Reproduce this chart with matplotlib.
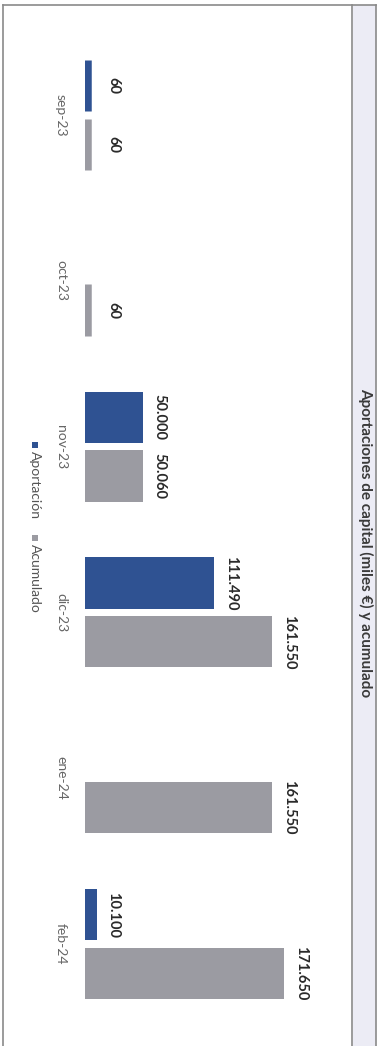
import matplotlib.pyplot as plt
from matplotlib.patches import Rectangle
from matplotlib.lines import Line2D

# Data (miles de euros)
meses = ["sep-23", "oct-23", "nov-23", "dic-23", "ene-24", "feb-24"]
aportacion = [60, 0, 50000, 111490, 0, 10100]
acumulado = [60, 60, 50060, 161550, 161550, 171650]

titulo = "Aportaciones de capital (miles €) y acumulado"
azul = "#2f5292"
gris = "#9b9ba2"

W, H = 382, 1046
plt.rcParams["font.family"] = ["Lato", "DejaVu Sans"]


def fx(x):
    return x / W


def fy(y):
    return 1 - y / H


fig = plt.figure(figsize=(W / 100, H / 100), dpi=100)

# marco y banda del título
fig.patches.append(Rectangle((fx(353), 0), fx(376) - fx(353), fy(5),
                             transform=fig.transFigure, facecolor="#ececf5",
                             edgecolor="none", zorder=0))
for x in [3, 352, 376]:
    fig.add_artist(Line2D([fx(x), fx(x)], [0, fy(5)], color="#8a8a8a", lw=1.2))
fig.add_artist(Line2D([fx(3), fx(376)], [fy(5), fy(5)], color="#8a8a8a", lw=1.2))

fig.text(fx(366), fy(543), titulo, rotation=270, ha="center", va="center",
         fontsize=11, fontweight="bold", color="#3a3a3a")

# gráfico (rotado: barras horizontales, categorías hacia abajo)
ax = fig.add_axes([fx(85), fy(1027), fx(340) - fx(85), fy(32) - fy(1027)])
pos = list(range(len(meses)))
h = 0.31
off = 0.177

b1 = ax.barh([p - off for p in pos], aportacion, height=h, color=azul,
             linewidth=0)
b2 = ax.barh([p + off for p in pos], acumulado, height=h, color=gris,
             linewidth=0)

# las barras muy pequeñas se ven como una franja fina en el original
for bars, c in ((b1, azul), (b2, gris)):
    for r in bars:
        if 0 < r.get_width() < 1000:
            r.set_edgecolor(c)
            r.set_linewidth(9)

ax.set_xlim(0, 220000)
ax.set_ylim(len(meses) - 0.5, -0.5)


def fmt(v):
    return f"{v:,}".replace(",", ".")


for bars, vals in ((b1, aportacion), (b2, acumulado)):
    big = [fmt(v) if v >= 1000 else "" for v in vals]
    small = [fmt(v) if 0 < v < 1000 else "" for v in vals]
    ax.bar_label(bars, labels=big, rotation=270, padding=7,
                 fontsize=10.5, fontweight="bold", color="#2a2a2a")
    ax.bar_label(bars, labels=small, rotation=270, padding=15,
                 fontsize=10.5, fontweight="bold", color="#2a2a2a")

ax.set_yticks(pos)
ax.set_yticklabels(meses, rotation=270, va="center", ha="right",
                   fontsize=10, color="#666666")
ax.tick_params(axis="y", length=0, pad=13)
ax.set_xticks([])
for s in ax.spines.values():
    s.set_visible(False)
ax.patch.set_alpha(0)

# leyenda
for y, txt, c in [(445, "Aportación", azul), (538, "Acumulado", gris)]:
    fig.patches.append(Rectangle((fx(32), fy(y + 3)), fx(6), 6 / H,
                                 transform=fig.transFigure, facecolor=c))
    fig.text(fx(35), fy(y + 6), txt, rotation=270, ha="center", va="top",
             fontsize=10, color="#555555")

fig.savefig("out.png", dpi=100, facecolor="white")
